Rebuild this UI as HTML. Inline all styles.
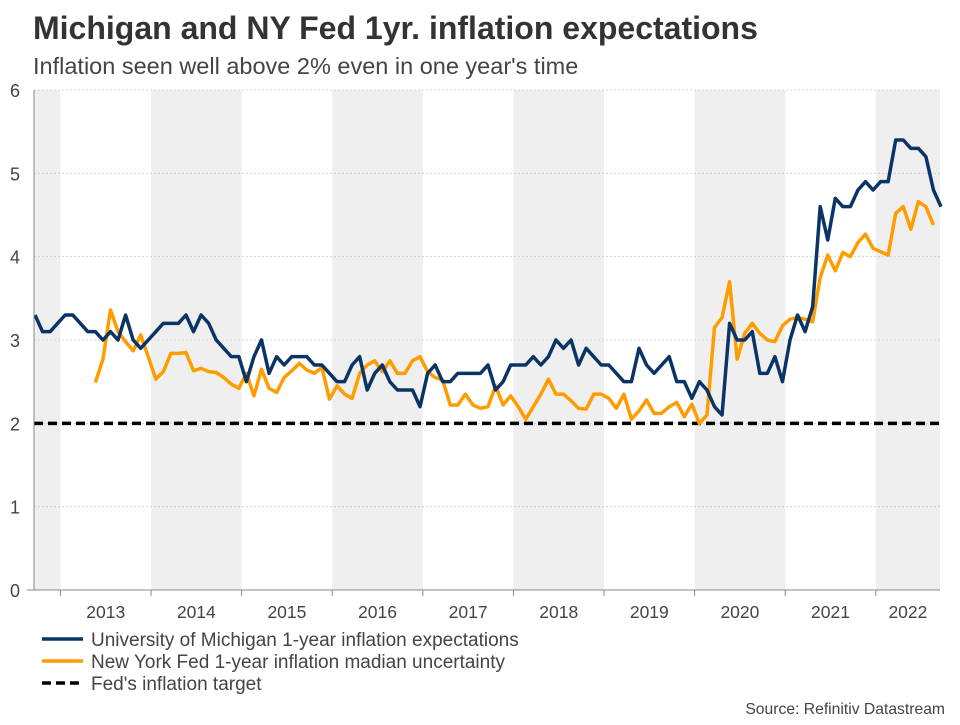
<!DOCTYPE html>
<html><head><meta charset="utf-8"><style>
body{margin:0;background:#fff;font-family:"Liberation Sans",sans-serif}
svg text{font-family:"Liberation Sans",sans-serif}
</style></head><body>
<svg id="c" width="960" height="720">
<text x="33" y="39" font-size="32" font-weight="bold" fill="#333">Michigan and NY Fed 1yr. inflation expectations</text>
<text x="33" y="74" font-size="23.5" fill="#444">Inflation seen well above 2% even in one year's time</text>
<g id="bands"></g><g id="grid"></g><g id="series"></g><g id="axes"></g>
<g>
<line x1="42" y1="639" x2="83" y2="639" stroke="#0b3466" stroke-width="3.5"/>
<text x="91" y="646" font-size="19" fill="#444">University of Michigan 1-year inflation expectations</text>
<line x1="42" y1="661" x2="83" y2="661" stroke="#ff9c00" stroke-width="3.5"/>
<text x="91" y="668" font-size="19" fill="#444">New York Fed 1-year inflation madian uncertainty</text>
<line x1="42" y1="683" x2="83" y2="683" stroke="#000" stroke-width="3.5" stroke-dasharray="9,5"/>
<text x="91" y="690" font-size="19" fill="#444">Fed's inflation target</text>
</g>
<text x="945" y="714" font-size="15.7" fill="#444" text-anchor="end">Source: Refinitiv Datastream</text>
</svg>
<script>
const years=[2013,2014,2015,2016,2017,2018,2019,2020,2021,2022];
const yTicks=[0,1,2,3,4,5,6];
const fedTarget=2;
const michigan=[3.3,3.1,3.1,3.2,
3.3,3.3,3.2,3.1,3.1,3.0,3.1,3.0,3.3,3.0,2.9,3.0,
3.1,3.2,3.2,3.2,3.3,3.1,3.3,3.2,3.0,2.9,2.8,2.8,
2.5,2.8,3.0,2.6,2.8,2.7,2.8,2.8,2.8,2.7,2.7,2.6,
2.5,2.5,2.7,2.8,2.4,2.6,2.7,2.5,2.4,2.4,2.4,2.2,
2.6,2.7,2.5,2.5,2.6,2.6,2.6,2.6,2.7,2.4,2.5,2.7,
2.7,2.7,2.8,2.7,2.8,3.0,2.9,3.0,2.7,2.9,2.8,2.7,
2.7,2.6,2.5,2.5,2.9,2.7,2.6,2.7,2.8,2.5,2.5,2.3,
2.5,2.4,2.2,2.1,3.2,3.0,3.0,3.1,2.6,2.6,2.8,2.5,
3.0,3.3,3.1,3.4,4.6,4.2,4.7,4.6,4.6,4.8,4.9,4.8,
4.9,4.9,5.4,5.4,5.3,5.3,5.2,4.8,4.6];
const nyStart=8;
const nyFed=[2.49,2.77,3.36,3.1,2.98,2.87,3.06,2.8,
2.53,2.62,2.84,2.84,2.85,2.63,2.66,2.62,2.61,2.55,2.47,2.42,
2.6,2.33,2.65,2.42,2.37,2.55,2.63,2.72,2.64,2.6,2.67,2.29,
2.45,2.35,2.3,2.6,2.7,2.75,2.62,2.75,2.6,2.6,2.75,2.8,
2.62,2.55,2.52,2.22,2.22,2.35,2.22,2.18,2.2,2.45,2.22,2.33,
2.2,2.05,2.2,2.35,2.53,2.35,2.35,2.27,2.18,2.17,2.35,2.35,
2.3,2.18,2.35,2.05,2.15,2.28,2.12,2.12,2.2,2.25,2.08,2.23,
2.0,2.1,3.15,3.27,3.7,2.77,3.08,3.2,3.08,3.0,2.98,3.17,
3.25,3.27,3.25,3.22,3.75,4.02,3.83,4.05,4.0,4.17,4.27,4.1,
4.06,4.02,4.52,4.6,4.33,4.66,4.6,4.38];
const NS="http://www.w3.org/2000/svg";
const L=34,R=940,T=90,B=590,M=7.55;
const x=i=>L+1+i*M; // month index from Sep 2012
const yx=yr=>x(4+(yr-2013)*12)-M/2-1; // year boundary
const y=v=>B-(v/6)*(B-T);
function mk(t,a,p){const e=document.createElementNS(NS,t);for(const k in a)e.setAttribute(k,a[k]);document.getElementById(p).appendChild(e);return e;}
const bx=[L,...years.map(yr=>yx(yr)),R];
for(let k=0;k<bx.length-1;k++){ if(k%2===0){
 const r=mk('rect',{x:bx[k],y:T,width:Math.min(bx[k+1],R)-bx[k],height:B-T,fill:'#efefef'},'bands');
 
 }}
yTicks.forEach(v=>{
 const g=mk('line',{x1:L,x2:R,y1:y(v),y2:y(v),stroke:'#ccc','stroke-dasharray':'2,2','stroke-width':0.8},'grid');
 
 
 const t=mk('text',{x:15,y:y(v)+7,'font-size':18,fill:'#444','text-anchor':'middle'},'axes');
 t.textContent=v;
 
 
});
mk('line',{x1:L,x2:L,y1:T,y2:B,stroke:'#888','stroke-width':1},'axes');
mk('line',{x1:L-7,x2:R,y1:B,y2:B,stroke:'#888','stroke-width':1},'axes');
years.forEach(yr=>{
 const xp=yx(yr);
 const nx=Math.min(yx(yr+1),R);
 mk('line',{x1:xp,x2:xp,y1:B,y2:B+6,stroke:'#888'},'axes');
 const t=mk('text',{x:(xp+nx)/2,y:618,'font-size':17.5,fill:'#444','text-anchor':'middle'},'axes');
 t.textContent=yr;
 
 
});
const tl=mk('line',{x1:L,x2:R,y1:y(fedTarget),y2:y(fedTarget),stroke:'#000','stroke-width':3.5,'stroke-dasharray':'9,5'},'series');


const p2=mk('polyline',{points:nyFed.map((v,i)=>x(i+nyStart)+','+y(v)).join(' '),fill:'none',stroke:'#ff9c00','stroke-width':3.5,'stroke-linejoin':'round'},'series');


const p1=mk('polyline',{points:michigan.map((v,i)=>x(i)+','+y(v)).join(' '),fill:'none',stroke:'#0b3466','stroke-width':3.5,'stroke-linejoin':'round'},'series');


</script>
</body></html>
